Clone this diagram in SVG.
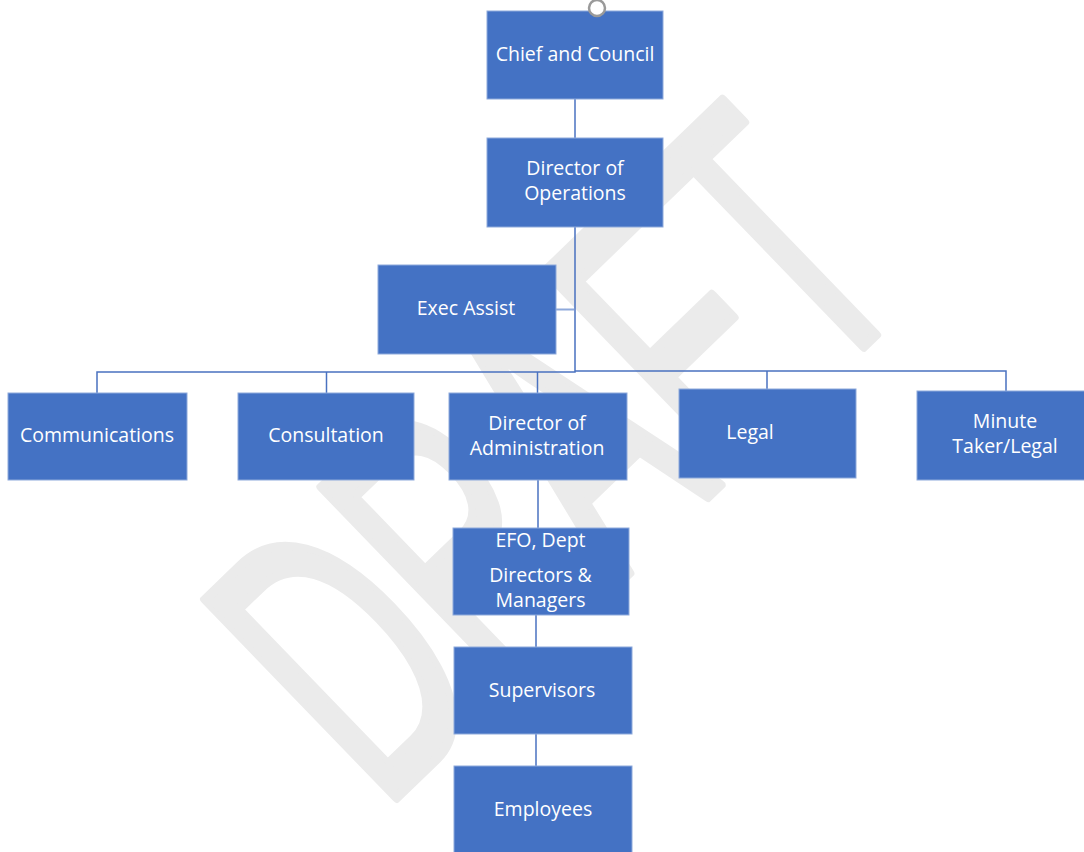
<svg xmlns="http://www.w3.org/2000/svg" width="1084" height="852" viewBox="0 0 1084 852">
<style>
.box{fill:#4472C4;stroke:#8eaadb;stroke-width:1}
.lbl{fill:#ffffff;font-family:"Open Sans","Liberation Sans",sans-serif;font-size:19.5px;text-anchor:middle}
.con{fill:none;stroke:#4a72c0;stroke-width:1.5}
.wm{fill:#ebebeb;stroke:#ebebeb;stroke-width:8;stroke-linejoin:round;vector-effect:non-scaling-stroke;font-family:"Liberation Sans",sans-serif;font-size:400px}
</style>
<rect width="1084" height="852" fill="#ffffff"/>
<g id="watermark">
<text class="wm" transform="translate(394,800) rotate(-44) scale(0.56,1)" x="-30" y="0">DRAFT</text>
</g>
<g id="connectors">
<path class="con" d="M575,99 V138"/>
<path class="con" d="M575,227 V372 H97 V393"/>
<path class="con" d="M326.5,372 V393"/>
<path class="con" d="M537.5,372 V393"/>
<path class="con" d="M575,371 H1006 V391"/>
<path class="con" d="M767,371 V389"/>
<path class="con" d="M556,309.5 H574" style="stroke:#8ea9db;stroke-width:2"/>
<path class="con" d="M538,480 V528"/>
<path class="con" d="M536,615 V647"/>
<path class="con" d="M536,734 V766"/>
</g>
<g id="chief">
<rect class="box" x="487" y="11" width="176" height="88"/>
<text class="lbl" x="575" y="61">Chief and Council</text>
</g>
<g id="handle">
<circle cx="597" cy="8" r="8" fill="#ffffff" stroke="#9a9a9a" stroke-width="2.5"/>
</g>
<g id="dir-ops">
<rect class="box" x="487" y="138" width="176" height="89"/>
<text class="lbl" x="575" y="175">Director of</text>
<text class="lbl" x="575" y="200">Operations</text>
</g>
<g id="exec-assist">
<rect class="box" x="378" y="265" width="178" height="89"/>
<text class="lbl" x="466" y="315">Exec Assist</text>
</g>
<g id="communications">
<rect class="box" x="8" y="393" width="179" height="87"/>
<text class="lbl" x="97" y="442">Communications</text>
</g>
<g id="consultation">
<rect class="box" x="238" y="393" width="176" height="87"/>
<text class="lbl" x="326" y="442">Consultation</text>
</g>
<g id="dir-admin">
<rect class="box" x="449" y="393" width="178" height="87"/>
<text class="lbl" x="537" y="430">Director of</text>
<text class="lbl" x="537" y="455">Administration</text>
</g>
<g id="legal">
<rect class="box" x="679" y="389" width="177" height="89"/>
<text class="lbl" x="750" y="439">Legal</text>
</g>
<g id="minute-taker">
<rect class="box" x="917" y="391" width="180" height="89"/>
<text class="lbl" x="1005" y="428">Minute</text>
<text class="lbl" x="1005" y="453">Taker/Legal</text>
</g>
<g id="efo">
<rect class="box" x="453" y="528" width="176" height="87"/>
<text class="lbl" x="540.5" y="547">EFO, Dept</text>
<text class="lbl" x="540.5" y="582">Directors &amp;</text>
<text class="lbl" x="540.5" y="607">Managers</text>
</g>
<g id="supervisors">
<rect class="box" x="454" y="647" width="178" height="87"/>
<text class="lbl" x="542" y="697">Supervisors</text>
</g>
<g id="employees">
<rect class="box" x="454" y="766" width="178" height="95"/>
<text class="lbl" x="543" y="816">Employees</text>
</g>
</svg>
